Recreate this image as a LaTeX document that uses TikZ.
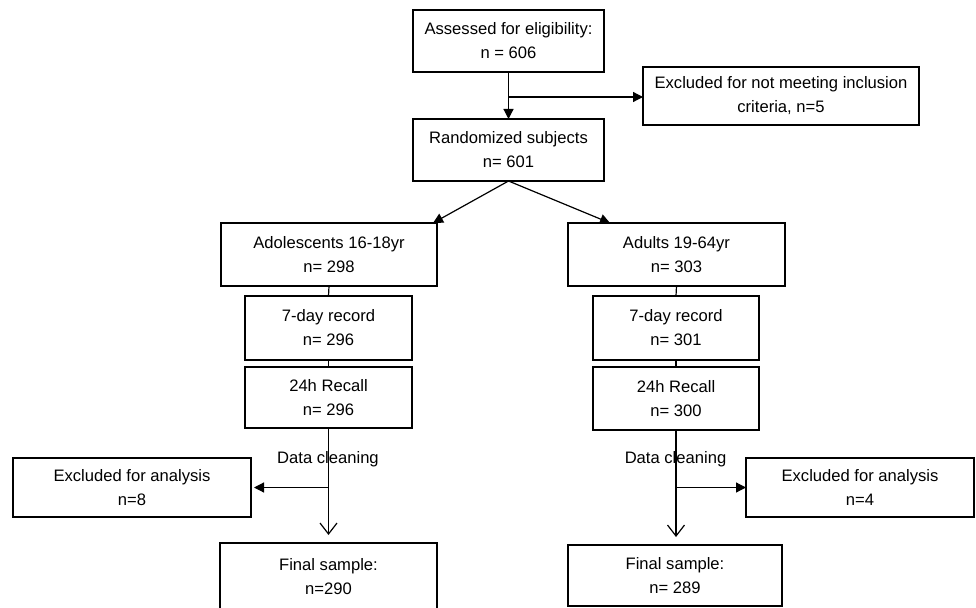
\documentclass[tikz,border=0pt]{standalone}
\usepackage{fontspec}
\setmainfont{Liberation Sans}
\usetikzlibrary{arrows.meta,calc}
\tikzset{
  box/.style={draw=black, line width=1.2pt, outer sep=0pt, inner sep=2pt, align=center,
    font=\fontsize{16.6}{24}\selectfont},
  lbl/.style={font=\fontsize{16.6}{24}\selectfont, inner sep=0pt},
  conn/.style={draw=black, line width=1.2pt},
  fillarrow/.style={conn, -{Triangle[length=10pt,width=10pt]}},
  openarrow/.style={conn, -{Straight Barb[length=11pt,width=17pt,line width=1.2pt]}},
}
\begin{document}
\begin{tikzpicture}[x=1pt,y=-1pt]
\useasboundingbox (0,0) rectangle (976,607);
\clip (0,0) rectangle (976,607);

\node[box, minimum width=191pt, minimum height=62pt] (assess) at (508.5,41) {Assessed for eligibility:\\n = 606};
\node[box, minimum width=276pt, minimum height=58pt] (excl) at (781,96) {Excluded for not meeting inclusion\\criteria, n=5};
\node[box, minimum width=191pt, minimum height=62pt] (rand) at (508.5,150) {Randomized subjects\\n= 601};

\node[box, minimum width=216pt, minimum height=63pt] (adol) at (329,254.5) {Adolescents 16-18yr\\n= 298};
\node[box, minimum width=217pt, minimum height=63pt] (adult) at (676.5,254.5) {Adults 19-64yr\\n= 303};

\node[box, minimum width=167pt, minimum height=64pt] (recL) at (328.5,328) {7-day record\\n= 296};
\node[box, minimum width=166pt, minimum height=64pt] (recR) at (676,328) {7-day record\\n= 301};

\node[box, minimum width=167pt, minimum height=61pt] (callL) at (328.5,397.5) {24h Recall\\n= 296};
\node[box, minimum width=166pt, minimum height=63pt] (callR) at (676,398.5) {24h Recall\\n= 300};

\node[box, minimum width=238pt, minimum height=59pt] (exL) at (132,487.5) {Excluded for analysis\\n=8};
\node[box, minimum width=228pt, minimum height=59pt] (exR) at (860,487.5) {Excluded for analysis\\n=4};

\node[box, minimum width=217pt, minimum height=68pt] (finL) at (328.5,577) {Final sample:\\n=290};
\node[box, minimum width=214pt, minimum height=61pt] (finR) at (675,575.5) {Final sample:\\n= 289};

% top
\draw[fillarrow] (assess.south) -- (rand.north);
\coordinate (bT) at (508.5,97);
\draw[fillarrow] (bT) -- (bT -| excl.west);

% split
\draw[fillarrow] (rand.south) -- ([xshift=-4pt]adol.north east);
\draw[fillarrow] (rand.south) -- ([xshift=42pt]adult.north west);

% columns
\draw[conn] (adol.south) -- (recL.north);
\draw[conn] (recL.south) -- (callL.north);
\draw[conn] (adult.south) -- (recR.north);
\draw[conn] (recR.south) -- (callR.north);

% data cleaning left
\draw[openarrow, shorten >=8pt] (callL.south) -- (callL.south |- finL.north);
\coordinate (bL) at (callL.south |- exL.east);
\draw[fillarrow, shorten >=3pt] (bL) -- (exL.east);
\node[lbl] (dcL) at (328,459) {Data cleaning};

% data cleaning right
\draw[openarrow, shorten >=8pt] (callR.south) -- (callR.south |- finR.north);
\coordinate (bR) at (callR.south |- exR.west);
\draw[fillarrow] (bR) -- (exR.west);
\node[lbl] (dcR) at (675.5,459) {Data cleaning};
\end{tikzpicture}
\end{document}
